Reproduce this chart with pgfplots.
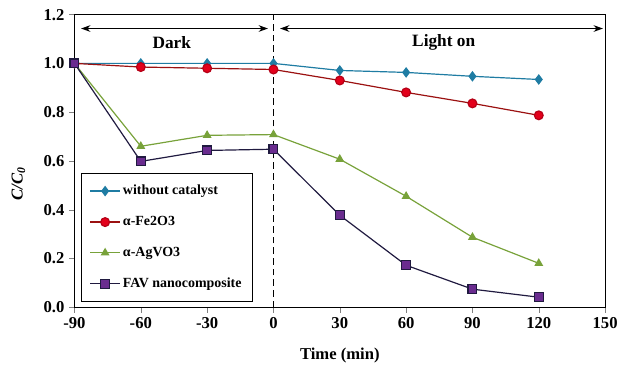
\documentclass[border=0pt]{standalone}
\usepackage{pgfplots}
\pgfplotsset{compat=1.18}
\usepackage{fontspec}
\setmainfont{Liberation Serif}
\usetikzlibrary{arrows.meta}
\definecolor{cblue}{HTML}{1F7CA3}
\definecolor{cred}{HTML}{E3001B}
\definecolor{cdred}{HTML}{9B1111}
\definecolor{cgreen}{HTML}{78A23A}
\definecolor{cnavy}{HTML}{201A40}
\definecolor{cpurp}{HTML}{6A2C8F}
\begin{document}
\begin{tikzpicture}
\begin{axis}[
  scale only axis, width=399pt, height=220pt,
  xmin=-90, xmax=150, ymin=0, ymax=1.2,
  xtick={-90,-60,...,150}, ytick={0,0.2,...,1.2},
  yticklabel style={/pgf/number format/.cd, fixed, fixed zerofill, precision=1},
  /pgf/number format/assume math mode=true,
  tick align=outside, xtick pos=bottom, ytick pos=left,
  major tick length=4pt,
  ticklabel style={font=\bfseries\fontsize{12.5}{14}\selectfont},
  xlabel={\bfseries Time (min)},
  xlabel style={yshift=-8pt},
  ylabel={\bfseries\itshape C/C\textsubscript{0}},
  ylabel style={yshift=7pt, xshift=-17pt},
  label style={font=\bfseries\fontsize{12.5}{14}\selectfont},
  axis line style={line width=0.8pt},
  legend image code/.code={\draw[mark repeat=2,mark phase=2] plot coordinates {(0pt,0pt) (11pt,0pt) (22pt,0pt)};},
  legend style={at={(0.013,0.017)}, anchor=south west, draw=black, line width=0.8pt,
    font=\bfseries\fontsize{10.5}{12}\selectfont, row sep=10.7pt, inner xsep=6pt, inner ysep=7pt},
  legend cell align=left,
]
\addplot[cblue, line width=0.9pt, mark=diamond*, mark size=3.3pt, mark options={fill=cblue, draw=cblue}]
 coordinates {(-90,1.0) (-60,1.0) (-30,1.0) (0,1.0) (30,0.971) (60,0.963) (90,0.947) (120,0.934)};
\addlegendentry{without catalyst}
\addplot[cdred, line width=0.9pt, mark=*, mark size=3.3pt, mark options={fill=cred, draw=cred!80!black}]
 coordinates {(-90,1.0) (-60,0.985) (-30,0.98) (0,0.975) (30,0.930) (60,0.881) (90,0.836) (120,0.787)};
\addlegendentry{α-Fe2O3}
\addplot[cgreen, line width=0.9pt, mark=triangle*, mark size=3pt, mark options={fill=cgreen, draw=cgreen}]
 coordinates {(-90,1.0) (-60,0.66) (-30,0.705) (0,0.708) (30,0.607) (60,0.455) (90,0.287) (120,0.18)};
\addlegendentry{α-AgVO3}
\addplot[cnavy, line width=0.9pt, mark=square*, mark size=3.3pt, mark options={fill=cpurp, draw=cnavy}]
 coordinates {(-90,1.0) (-60,0.598) (-30,0.643) (0,0.648) (30,0.377) (60,0.172) (90,0.074) (120,0.041)};
\addlegendentry{FAV nanocomposite}
\draw[line width=0.9pt, dash pattern=on 5pt off 3pt] (axis cs:0,0) -- (axis cs:0,1.2);
\draw[{Stealth[length=7pt,width=5pt]}-{Stealth[length=7pt,width=5pt]}, line width=0.9pt] (axis cs:-87,1.143) -- (axis cs:-2.5,1.143);
\draw[{Stealth[length=7pt,width=5pt]}-{Stealth[length=7pt,width=5pt]}, line width=0.9pt] (axis cs:3,1.143) -- (axis cs:149,1.143);
\node[font=\bfseries\fontsize{13}{15}\selectfont] at (axis cs:-46,1.086) {Dark};
\node[font=\bfseries\fontsize{13}{15}\selectfont] at (axis cs:77,1.086) {Light on};
\end{axis}
\path (current axis.north) ++(0pt,11pt);
\path (current axis.south west) ++(-56pt,0pt);
\end{tikzpicture}
\end{document}
